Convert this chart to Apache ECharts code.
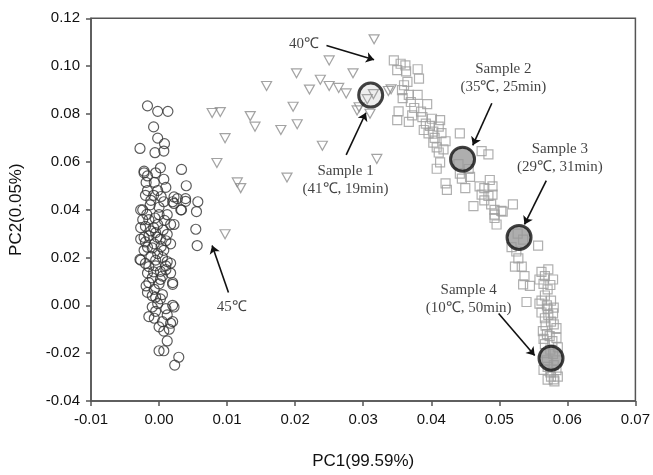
<!DOCTYPE html>
<html><head><meta charset="utf-8">
<script src="https://cdn.jsdelivr.net/npm/echarts@6/dist/echarts.min.js"></script>
<style>html,body{margin:0;padding:0;background:#fff}#c{width:653px;height:475px}</style>
</head><body><div id="c"></div>
<script>
// ---- data (PC1, PC2) ----
const circles = [
[-0.0017,0.0834],[-0.0002,0.0811],[0.0013,0.0811],[-0.0008,0.0746],[-0.0002,0.0699],[0.0008,0.0676],[-0.0028,0.0656],[-0.0006,0.0638],[0.0007,0.0645],[0.0002,0.0575],[0.0033,0.0568],[0.0040,0.0500],[0.0057,0.0433],[0.0055,0.0392],[0.0054,0.0318],[0.0056,0.0250],[0.0033,0.0399],[0.0027,0.0446],[0.0020,0.0433],[-0.0022,0.0554],[-0.0027,0.0399],[-0.0027,0.0325],[-0.0027,0.0189],[0.0022,0.0338],
[-0.0027,0.0277],[-0.0028,0.0192],[-0.0017,0.0135],[-0.0019,0.0081],[-0.0017,0.0054],[-0.0005,0.0034],[-0.0010,-0.0007],[-0.0002,0.0007],[0.0010,-0.0014],[0.0022,-0.0007],[-0.0015,-0.0047],[-0.0007,-0.0054],[0.0005,-0.0068],[0.0020,-0.0068],[0.0007,-0.0108],[0.0012,-0.0149],[0.0000,-0.0190],[0.0007,-0.0190],[0.0029,-0.0217],[0.0023,-0.0250],[0.0020,0.0095],[0.0002,0.0108],[0.0010,0.0149],[0.0017,0.0176],
[0.0039,0.0435],[0.0032,0.0399],[0.0022,0.0426],[-0.0024,0.0399],[-0.0024,0.0358],[-0.0022,0.0284],[-0.0007,0.0067],[-0.0012,0.0439],[0.0007,0.0433],[0.0012,0.0379],[-0.0002,0.0338],[0.0012,0.0297],[-0.0007,0.0257],[0.0007,0.0230],[-0.0005,0.0189],[0.0012,0.0183],[-0.0015,0.0162],[0.0002,0.0142],[0.0017,0.0135],[-0.0010,0.0115],[0.0005,0.0122],[-0.0015,0.0358],[-0.0005,0.0304],[-0.0017,0.0243],[0.0002,0.0277],[0.0017,0.0257],[0.0017,0.0338],[-0.0012,0.0311],[0.0000,0.0379],[-0.0022,0.0230],[-0.0002,0.0216],
[-0.0022,0.0561],[-0.0017,0.0541],[-0.0005,0.0554],[-0.0019,0.0514],[-0.0007,0.0514],[0.0007,0.0527],[-0.0017,0.0480],[-0.0002,0.0480],[0.0010,0.0493],[0.0022,0.0453],[0.0039,0.0446],
[0.0002,0.0027],[0.0020,0.0000],[0.0017,-0.0075],[0.0020,0.0088],
[-0.0020,0.0460],[-0.0008,0.0460],[0.0003,0.0455],[-0.0013,0.0420],[0.0000,0.0410],[-0.0018,0.0380],[-0.0006,0.0365],[0.0008,0.0355],[-0.0020,0.0330],[-0.0008,0.0325],[0.0006,0.0315],[-0.0015,0.0290],[-0.0003,0.0285],[0.0010,0.0270],[-0.0020,0.0265],[-0.0010,0.0240],[0.0003,0.0245],[-0.0012,0.0205],[0.0005,0.0200],[-0.0020,0.0175],[-0.0005,0.0165],[0.0010,0.0165],[-0.0008,0.0140],[-0.0015,0.0095],[0.0000,0.0090],[-0.0010,0.0040],[0.0005,0.0045],[-0.0005,-0.0025],[0.0012,-0.0040],[0.0000,-0.0090],[0.0015,-0.0100]
];
const triangles = [
[0.0078,0.0804],[0.0090,0.0808],[0.0097,0.0699],[0.0085,0.0595],[0.0115,0.0514],[0.0120,0.0490],[0.0134,0.0791],[0.0141,0.0747],[0.0158,0.0917],[0.0179,0.0733],[0.0188,0.0534],[0.0197,0.0830],[0.0203,0.0757],[0.0202,0.0970],[0.0221,0.0902],[0.0237,0.0943],[0.0240,0.0667],[0.0250,0.1024],[0.0250,0.0917],[0.0097,0.0297],[0.0264,0.0909],[0.0275,0.0886],[0.0285,0.0970],[0.0294,0.0828],[0.0316,0.1112],[0.0291,0.0815],[0.0310,0.0801],[0.0306,0.0862],[0.0315,0.0883],[0.0337,0.0896],[0.0341,0.0903],[0.0320,0.0612]
];
const squares = [
[0.0345,0.1024],[0.0355,0.1010],[0.0362,0.1003],[0.0350,0.0983],[0.0363,0.0978],[0.0380,0.0987],[0.0382,0.0948],[0.0365,0.0934],[0.0357,0.0900],[0.0380,0.0880],[0.0358,0.0866],[0.0367,0.0880],[0.0375,0.0825],[0.0352,0.0811],[0.0394,0.0841],[0.0372,0.0794],[0.0350,0.0774],[0.0367,0.0767],[0.0387,0.0787],[0.0392,0.0760],[0.0401,0.0780],[0.0389,0.0733],[0.0396,0.0719],[0.0403,0.0726],[0.0413,0.0774],[0.0411,0.0747],[0.0421,0.0686],[0.0403,0.0680],[0.0411,0.0639],[0.0418,0.0652],[0.0413,0.0598],[0.0408,0.0571],[0.0442,0.0719],[0.0474,0.0645],[0.0484,0.0631],[0.0442,0.0551],[0.0445,0.0530],[0.0457,0.0537],[0.0421,0.0510],[0.0423,0.0483],[0.0450,0.0490],[0.0471,0.0497],[0.0478,0.0490],[0.0486,0.0524],[0.0490,0.0497],[0.0474,0.0463],[0.0484,0.0457],[0.0490,0.0463],[0.0462,0.0415],[0.0488,0.0422],[0.0503,0.0395],[0.0520,0.0422],[0.0493,0.0379],[0.0496,0.0338],[0.0478,0.0439],[0.0493,0.0399],[0.0505,0.0392],[0.0493,0.0365],
[0.0557,0.0250],[0.0518,0.0243],[0.0528,0.0196],[0.0533,0.0162],[0.0523,0.0162],[0.0537,0.0122],[0.0535,0.0088],[0.0545,0.0081],[0.0559,0.0108],[0.0567,0.0122],[0.0579,0.0108],[0.0571,0.0067],[0.0567,0.0041],[0.0576,0.0020],[0.0540,0.0014],[0.0559,0.0007],[0.0571,-0.0014],[0.0579,-0.0034],[0.0567,-0.0054],[0.0576,-0.0068],[0.0584,-0.0095],[0.0564,-0.0108],[0.0574,-0.0129],[0.0584,-0.0136],[0.0567,-0.0162],[0.0586,-0.0176],[0.0579,-0.0203],[0.0571,-0.0257],[0.0584,-0.0271],[0.0576,-0.0298],[0.0581,-0.0318],[0.0571,-0.0311],[0.0586,-0.0298],
[0.0562,0.0140],[0.0572,0.0150],[0.0565,0.0090],[0.0575,0.0085],[0.0562,0.0020],[0.0570,0.0000],[0.0580,-0.0010],[0.0562,-0.0030],[0.0572,-0.0040],[0.0568,-0.0085],[0.0580,-0.0080],[0.0570,-0.0120],[0.0578,-0.0150],[0.0565,-0.0140],[0.0575,-0.0185],[0.0568,-0.0200],[0.0585,-0.0230],[0.0570,-0.0230],[0.0580,-0.0250],[0.0575,-0.0280],[0.0565,-0.0270],[0.0580,-0.0310],
[0.0370,0.0850],[0.0360,0.0920],[0.0385,0.0810],[0.0398,0.0750],[0.0405,0.0700],[0.0415,0.0720],[0.0408,0.0660],[0.0455,0.0570],[0.0440,0.0590],[0.0527,0.0300],[0.0535,0.0275],[0.0525,0.0225]
];
const samplePoints = [[0.0311,0.0879],[0.0446,0.0611],[0.0529,0.0284],[0.0576,-0.0221]];
const annotTexts = ['40℃','Sample 1\n(41℃, 19min)','Sample 2\n(35℃, 25min)','Sample 3\n(29℃, 31min)','Sample 4\n(10℃, 50min)','45℃'];
const annotAt = [[0.0213,0.1092],[0.0274,0.0524],[0.0506,0.0951],[0.0589,0.0614],[0.0455,0.0026],[0.0107,-0.0007]];
const arrowFrom = [[0.0246,0.1086],[0.0275,0.0629],[0.0489,0.0845],[0.0569,0.0521],[0.0499,-0.0034],[0.0102,0.0054]];
const arrowTo = [[0.0316,0.1027],[0.0304,0.0805],[0.0461,0.0669],[0.0537,0.0338],[0.0552,-0.0210],[0.0078,0.0250]];
const xTicks = {min:-0.01, max:0.07, step:0.01};
const yTicks = {min:-0.04, max:0.12, step:0.02};

const chart = echarts.init(document.getElementById('c'), null, {renderer:'canvas'});
const axisCol = '#555';
const lblStyle = {fontFamily:"'Liberation Sans', Arial, sans-serif", fontSize:15, color:'#111'};
chart.setOption({
  animation:false,
  backgroundColor:'#fff',
  grid:{left:90, right:14.5, top:18.3, bottom:62.3, show:true, borderColor:axisCol, borderWidth:1.5, backgroundColor:'transparent'},
  xAxis:{type:'value', min:xTicks.min, max:xTicks.max, interval:xTicks.step,
    name:'PC1(99.59%)', nameLocation:'middle', nameGap:52,
    nameTextStyle:{fontFamily:"'Liberation Sans', Arial, sans-serif", fontSize:17, color:'#111'},
    axisLine:{show:true, onZero:false, lineStyle:{color:axisCol, width:1.5}},
    axisTick:{show:true, inside:false, length:5, lineStyle:{color:axisCol, width:1.5}},
    axisLabel:Object.assign({margin:11, formatter:v=>v.toFixed(2)}, lblStyle),
    splitLine:{show:false}},
  yAxis:{type:'value', min:yTicks.min, max:yTicks.max, interval:yTicks.step,
    name:'PC2(0.05%)', nameLocation:'middle', nameGap:66,
    nameTextStyle:{fontFamily:"'Liberation Sans', Arial, sans-serif", fontSize:17, color:'#111'},
    axisLine:{show:true, onZero:false, lineStyle:{color:axisCol, width:1.5}},
    axisTick:{show:true, inside:false, length:5, lineStyle:{color:axisCol, width:1.5}},
    axisLabel:Object.assign({margin:11, formatter:v=>v.toFixed(2)}, lblStyle),
    splitLine:{show:false}},
  series:[
    {type:'scatter', data:circles, symbol:'circle', symbolSize:10,
      itemStyle:{color:'rgba(255,255,255,0)', borderColor:'#333', borderWidth:1.2}},
    {type:'scatter', data:triangles, symbol:'triangle', symbolRotate:180, symbolSize:[10,9],
      itemStyle:{color:'rgba(255,255,255,0)', borderColor:'#8c8c8c', borderWidth:1.2}},
    {type:'scatter', data:squares, symbol:'rect', symbolSize:9,
      itemStyle:{color:'rgba(255,255,255,0)', borderColor:'#9c9c9c', borderWidth:1.2}},
    {type:'scatter', data:samplePoints.map((p,i)=> i===0 ? {value:p, itemStyle:{color:'rgba(170,170,170,0.25)'}} : {value:p}),
      symbol:'circle', symbolSize:24, z:5,
      itemStyle:{color:'#9a9a9a', borderColor:'#111', borderWidth:3}},
    {type:'lines', coordinateSystem:'cartesian2d', z:6,
      data:arrowFrom.map((p,i)=>({coords:[p, arrowTo[i]]})),
      symbol:['none','arrow'], symbolSize:[0,8],
      lineStyle:{color:'#111', width:1.6, opacity:1}},
    {type:'scatter', symbolSize:0, z:7, silent:true,
      data:annotAt.map((p,i)=>({value:p, name:annotTexts[i]})),
      label:{show:true, position:'inside', formatter:p=>p.name, align:'center',
        fontFamily:"'Liberation Serif', 'Times New Roman', serif", fontSize:15, lineHeight:18, color:'#111'}}
  ]
});
</script></body></html>
